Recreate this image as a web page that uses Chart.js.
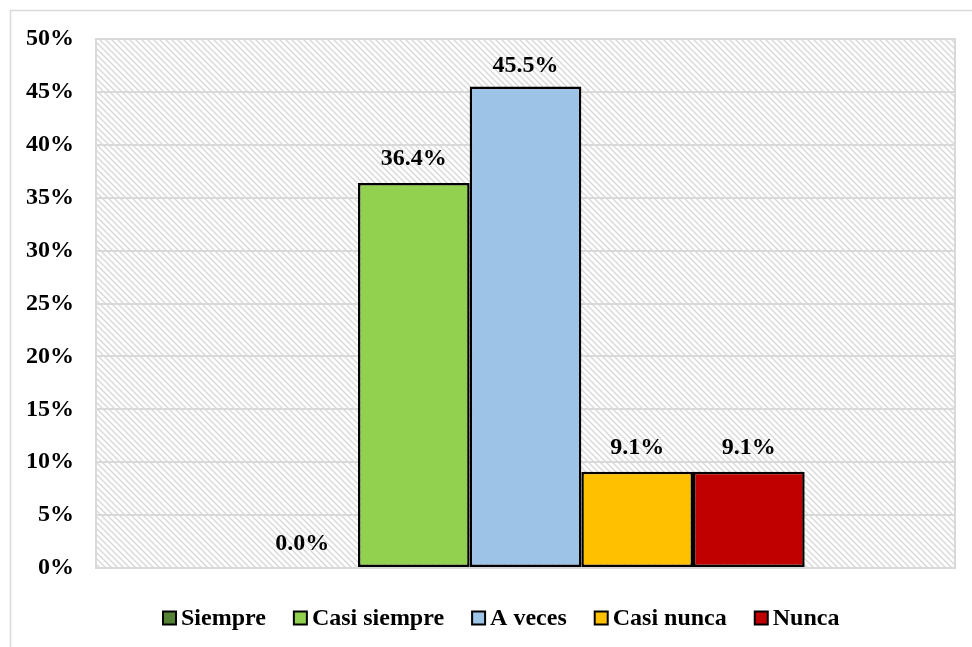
<!DOCTYPE html>
<html>
<head>
<meta charset="utf-8">
<title>Frecuencia</title>
<script src="https://cdn.jsdelivr.net/npm/chart.js@4/dist/chart.umd.min.js"></script>
<style>
  html, body { margin: 0; padding: 0; background: #fff; }
</style>
</head>
<body>
<canvas id="grafico" width="972" height="647"></canvas>
<script>
// Datos del gráfico
const categorias = [''];
const series = ['Siempre', 'Casi siempre', 'A veces', 'Casi nunca', 'Nunca'];
const porcentajes = [0.0, 36.4, 45.5, 9.1, 9.1];
const colores = ['#548235', '#92D050', '#9DC3E6', '#FFC000', '#C00000'];
const ejeMax = 50;
const ejePaso = 5;

const fuente = '"Liberation Serif", "Times New Roman", serif';
const tamFuente = 24;

// Trama diagonal del fondo del área de trazado
function crearTrama() {
  const c = document.createElement('canvas');
  c.width = 6; c.height = 6;
  const g = c.getContext('2d');
  g.fillStyle = '#ffffff';
  g.fillRect(0, 0, 6, 6);
  g.strokeStyle = '#d6d6d6';
  g.lineWidth = 1.3;
  g.beginPath();
  g.moveTo(-1, -1); g.lineTo(7, 7);
  g.moveTo(-7, -1); g.lineTo(1, 7);
  g.moveTo(5, -1); g.lineTo(13, 7);
  g.stroke();
  return g.createPattern(c, 'repeat');
}

const fondo = {
  id: 'fondo',
  beforeDraw(chart) {
    const { ctx, chartArea: a } = chart;
    ctx.save();
    ctx.fillStyle = '#fff';
    ctx.fillRect(0, 0, chart.width, chart.height);
    // marco exterior
    ctx.strokeStyle = '#d9d9d9';
    ctx.lineWidth = 1.5;
    ctx.strokeRect(10.5, 10.5, chart.width + 10, chart.height + 10);
    // trama del área de trazado
    ctx.fillStyle = crearTrama();
    ctx.fillRect(a.left, a.top, a.right - a.left, a.bottom - a.top);
    ctx.restore();
  },
  beforeDatasetsDraw(chart) {
    const { ctx, chartArea: a } = chart;
    ctx.save();
    ctx.strokeStyle = '#d9d9d9';
    ctx.lineWidth = 2;
    ctx.strokeRect(a.left, a.top, a.right - a.left, a.bottom - a.top);
    ctx.restore();
  }
};

// Etiquetas de valor encima de cada barra
const etiquetasValor = {
  id: 'etiquetasValor',
  afterDatasetsDraw(chart) {
    const ctx = chart.ctx;
    ctx.save();
    ctx.font = 'bold ' + tamFuente + 'px ' + fuente;
    ctx.fillStyle = '#000';
    ctx.textAlign = 'center';
    ctx.textBaseline = 'middle';
    chart.data.datasets.forEach((ds, i) => {
      chart.getDatasetMeta(i).data.forEach((bar, j) => {
        const dy = bar.y - chart.chartArea.top < 60 ? 21 : 24;
        ctx.fillText(ds.data[j].toFixed(1) + '%', bar.x, bar.y - dy);
      });
    });
    ctx.restore();
  }
};

// Leyenda inferior con cuadros compactos
const leyenda = {
  id: 'leyenda',
  afterDraw(chart) {
    const ctx = chart.ctx;
    const items = chart.data.datasets;
    const caja = 13, sep = 5, hueco = 28, centro = 501, y = 618;
    ctx.save();
    ctx.font = 'bold ' + tamFuente + 'px ' + fuente;
    ctx.textBaseline = 'middle';
    ctx.textAlign = 'left';
    const anchos = items.map(ds => ctx.measureText(ds.label).width);
    const total = anchos.reduce((s, w) => s + caja + sep + w, 0) + hueco * (items.length - 1);
    let x = Math.round(centro - total / 2);
    items.forEach((ds, i) => {
      ctx.fillStyle = ds.backgroundColor;
      ctx.fillRect(x, y - caja / 2, caja, caja);
      ctx.strokeStyle = '#000';
      ctx.lineWidth = 2;
      ctx.strokeRect(x, y - caja / 2, caja, caja);
      ctx.fillStyle = '#000';
      ctx.fillText(ds.label, x + caja + sep, y + 1);
      x += caja + sep + anchos[i] + hueco;
    });
    ctx.restore();
  }
};

const conjuntos = series.map((nombre, i) => ({
  label: nombre,
  data: [porcentajes[i]],
  backgroundColor: colores[i],
  borderColor: '#000',
  borderWidth: 2.5,
  borderSkipped: false,
  categoryPercentage: 0.65,
  barPercentage: 1.0
}));

new Chart(document.getElementById('grafico'), {
  type: 'bar',
  data: { labels: categorias, datasets: conjuntos },
  plugins: [fondo, etiquetasValor, leyenda],
  options: {
    responsive: false,
    animation: false,
    layout: { padding: { top: 39, right: 17, left: 0, bottom: 79 } },
    plugins: {
      tooltip: { enabled: false },
      legend: { display: false }
    },
    scales: {
      x: {
        afterFit(scale) { scale.height = 0; },
        grid: { display: false, drawTicks: false },
        border: { display: false },
        ticks: { display: false }
      },
      y: {
        min: 0,
        max: ejeMax,
        afterFit(scale) { scale.width = 96; },
        grid: { color: '#d9d9d9', lineWidth: 2, drawTicks: false },
        border: { display: false },
        ticks: {
          stepSize: ejePaso,
          padding: 22,
          color: '#000',
          font: { family: fuente, size: tamFuente, weight: 'bold' },
          callback: v => v + '%'
        }
      }
    }
  }
});
</script>
</body>
</html>
